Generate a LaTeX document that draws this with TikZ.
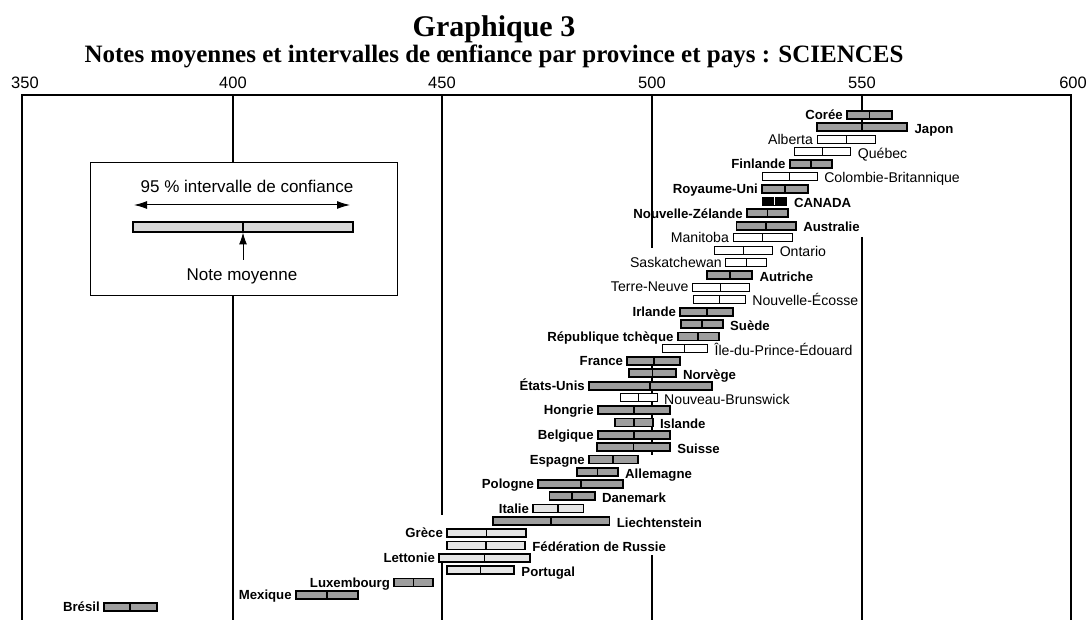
\documentclass[tikz,border=0pt]{standalone}
\usepackage{fontspec}
\setmainfont{Liberation Serif}
\newfontfamily\labfont{Liberation Sans}
\usetikzlibrary{arrows.meta}
\tikzset{
  gridline/.style={line width=1.1pt, black},
  cbar/.style={draw=black, line width=1.8pt, fill=black!38},
  lbar/.style={draw=black, line width=1.7pt, fill=black!10},
  pbar/.style={draw=black, line width=1pt, fill=white},
  kbar/.style={draw=black, line width=1pt, fill=black},
  cdiv/.style={line width=1.8pt, black},
  ldiv/.style={line width=1.7pt, black},
  pdiv/.style={line width=1pt, black},
  kdiv/.style={line width=1.5pt, white},
  clab/.style={font=\labfont\bfseries\fontsize{13.2}{15}\selectfont, inner sep=0pt},
  llab/.style={clab},
  klab/.style={clab},
  plab/.style={font=\labfont\fontsize{14.1}{16}\selectfont, inner sep=0pt},
  axlab/.style={font=\labfont\fontsize{16.5}{18}\selectfont, inner sep=0pt, anchor=base},
  legtext/.style={font=\labfont\fontsize{17}{19}\selectfont, inner sep=0pt, anchor=base},
  legarrow/.style={line width=1pt, -{Latex[length=12pt, width=8pt]}},
}
\begin{document}
\begin{tikzpicture}[x=1pt, y=-1pt]
\useasboundingbox (0,0) rectangle (1089,620);
% titles
\node[font=\bfseries\fontsize{30}{34}\selectfont, inner sep=0pt, anchor=base] (title) at (494,37) {Graphique 3};
\node[font=\bfseries\fontsize{25}{28}\selectfont, inner sep=0pt, anchor=base] (subtitle) at (494,63) {Notes moyennes et intervalles de œnfiance par province et pays : SCIENCES};
% axis labels
\node[axlab] (t350) at (25,89) {350};
\node[axlab] (t400) at (233,89) {400};
\node[axlab] (t450) at (442,89) {450};
\node[axlab] (t500) at (652,89) {500};
\node[axlab] (t550) at (862,89) {550};
\node[axlab] (t600) at (1073,89) {600};
% frame and grid
\draw[gridline] (22,620) -- (22,95) -- (1071,95) -- (1071,620);
\draw[gridline] (233,95) -- (233,163);
\draw[gridline] (233,295) -- (233,620);
\draw[gridline] (442,95) -- (442,515);
\draw[gridline] (442,557) -- (442,620);
\draw[gridline] (652,95) -- (652,248);
\draw[gridline] (652,362) -- (652,455);
\draw[gridline] (652,555) -- (652,620);
\draw[gridline] (862,95) -- (862,128);
\draw[gridline] (862,237) -- (862,620);
% legend
\draw[line width=1pt] (90,163) rectangle (397,295);
\node[legtext] (legtitle) at (247,193) {95 \% intervalle de confiance};
\coordinate (arrL) at (134,205);
\coordinate (arrR) at (350,205);
\draw[line width=1pt, {Latex[length=13pt, width=8pt]}-{Latex[length=13pt, width=8pt]}] (arrL) -- (arrR);
\draw[line width=1.2pt, fill=black!15] (133,222) rectangle (353,232);
\draw[line width=1.5pt] (243,222) -- (243,232);
\coordinate (meanfoot) at (243,260);
\coordinate (meantip) at (243,232.5);
\draw[legarrow] (meanfoot) -- (meantip);
\node[legtext] (legmean) at (242,280) {Note moyenne};
% rows: index / mean / half-width / type / side / label
\foreach \i/\m/\h/\t/\s/\n in {
 0/551.8/5.4/c/l/Corée,
 1/550/10.8/c/r/Japon,
 2/546.2/6.9/p/l/Alberta,
 3/540.6/6.7/p/r/Québec,
 4/537.8/5.0/c/l/Finlande,
 5/532.8/6.5/p/r/Colombie-Britannique,
 6/531.7/5.5/c/l/Royaume-Uni,
 7/529.2/2.9/k/r/CANADA,
 8/527.5/4.9/c/l/Nouvelle-Zélande,
 9/527.2/7.1/c/r/Australie,
 10/526.4/7.1/p/l/Manitoba,
 11/521.8/6.9/p/r/Ontario,
 12/522.4/4.8/p/l/Saskatchewan,
 13/518.5/5.4/c/r/Autriche,
 14/516.4/6.7/p/l/Terre-Neuve,
 15/516.0/6.2/p/r/Nouvelle-Écosse,
 16/513.0/6.3/c/l/Irlande,
 17/511.9/5.0/c/r/Suède,
 18/511.0/4.9/c/l/République tchèque,
 19/507.8/5.4/p/r/Île-du-Prince-Édouard,
 20/500.4/6.3/c/l/France,
 21/500.1/5.6/c/r/Norvège,
 22/499.6/14.6/c/l/États-Unis,
 23/496.8/4.4/p/r/Nouveau-Brunswick,
 24/495.7/8.6/c/l/Hongrie,
 25/495.7/4.5/c/r/Islande,
 26/495.7/8.6/c/l/Belgique,
 27/495.6/8.7/c/r/Suisse,
 28/490.8/5.8/c/l/Espagne,
 29/487.0/4.9/c/r/Allemagne,
 30/483.0/10.1/c/l/Pologne,
 31/481.0/5.4/c/r/Danemark,
 32/477.7/6.0/l/l/Italie,
 33/476.0/13.9/c/r/Liechtenstein,
 34/460.6/9.4/l/l/Grèce,
 35/460.5/9.3/l/r/Fédération de Russie,
 36/460.1/10.8/l/l/Lettonie,
 37/459.2/8.0/l/r/Portugal,
 38/443.2/4.6/c/l/Luxembourg,
 39/422.6/7.4/c/l/Mexique,
 40/375.8/6.3/c/l/Brésil}{
  \pgfmathsetmacro\yy{115+12.3*\i}
  \pgfmathsetmacro\xl{442+(\m-\h-450)*4.2}
  \pgfmathsetmacro\xr{442+(\m+\h-450)*4.2}
  \pgfmathsetmacro\xm{442+(\m-450)*4.2}
  \draw[\t bar] (\xl,\yy-4) rectangle (\xr,\yy+4);
  \draw[\t div] (\xm,\yy-4) -- (\xm,\yy+4);
  \if\s l
    \node[\t lab, anchor=base east] (lab\i) at (\xl-4,\yy+4.7) {\n};
  \else
    \node[\t lab, anchor=base west] (lab\i) at (\xr+7,\yy+6.3) {\n};
  \fi
}
\end{tikzpicture}
\end{document}
